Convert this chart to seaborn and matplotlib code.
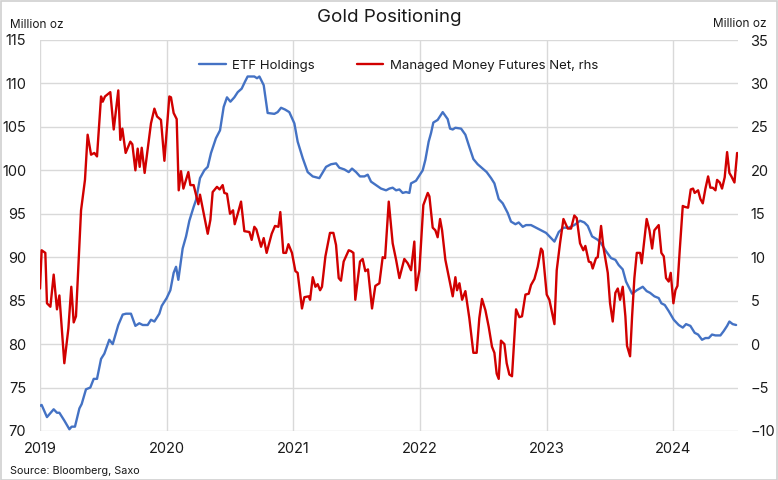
import numpy as np
import pandas as pd
import seaborn as sns
import matplotlib.pyplot as plt

# ETF holdings (left axis, million oz) - decimal year / value
etf_year = [
    2019.000, 2019.013, 2019.055, 2019.108, 2019.134, 2019.153, 2019.192, 2019.232, 2019.250, 2019.276,
    2019.311, 2019.329, 2019.363, 2019.397, 2019.424, 2019.450, 2019.482, 2019.508, 2019.547, 2019.574,
    2019.618, 2019.653, 2019.679, 2019.718, 2019.753, 2019.784, 2019.811, 2019.850, 2019.876, 2019.903,
    2019.942, 2019.961, 2020.000, 2020.029, 2020.055, 2020.074, 2020.092, 2020.126, 2020.153, 2020.179,
    2020.213, 2020.232, 2020.263, 2020.297, 2020.324, 2020.350, 2020.389, 2020.421, 2020.450, 2020.476,
    2020.503, 2020.534, 2020.561, 2020.592, 2020.618, 2020.639, 2020.692, 2020.713, 2020.732, 2020.766,
    2020.797, 2020.850, 2020.876, 2020.903, 2020.934, 2020.968,
    2021.008, 2021.034, 2021.074, 2021.113, 2021.153, 2021.205, 2021.258, 2021.297, 2021.337, 2021.363,
    2021.403, 2021.437, 2021.463, 2021.495, 2021.526, 2021.561, 2021.587, 2021.613, 2021.653, 2021.692,
    2021.732, 2021.758, 2021.784, 2021.811, 2021.837, 2021.863, 2021.889, 2021.916, 2021.929, 2021.968,
    2022.021, 2022.042, 2022.068, 2022.087, 2022.105, 2022.139, 2022.179, 2022.218, 2022.237, 2022.258,
    2022.279, 2022.324, 2022.358, 2022.389, 2022.421, 2022.455, 2022.495, 2022.526, 2022.561, 2022.587,
    2022.621, 2022.653, 2022.692, 2022.718, 2022.753, 2022.779, 2022.811, 2022.837, 2022.876, 2022.916,
    2022.955, 2022.995,
    2023.021, 2023.061, 2023.095, 2023.132, 2023.174, 2023.218, 2023.263, 2023.297, 2023.324, 2023.358,
    2023.403, 2023.429, 2023.468, 2023.508, 2023.542, 2023.568, 2023.600, 2023.626, 2023.674, 2023.711,
    2023.758, 2023.789, 2023.816, 2023.850, 2023.884, 2023.905, 2023.932, 2023.963,
    2024.003, 2024.042, 2024.074, 2024.100, 2024.134, 2024.168, 2024.195, 2024.226, 2024.253, 2024.279,
    2024.305, 2024.332, 2024.371, 2024.397, 2024.424, 2024.442, 2024.468, 2024.495,
]
etf_oz = [
    72.9, 73.0, 71.6, 72.5, 72.1, 72.1, 71.2, 70.2, 70.5, 70.5,
    72.6, 73.1, 74.8, 75.0, 76.0, 76.0, 78.3, 78.9, 80.5, 80.0,
    82.2, 83.4, 83.5, 83.5, 82.1, 82.4, 82.2, 82.2, 82.8, 82.6,
    83.5, 84.4, 85.3, 86.2, 88.2, 88.9, 87.4, 91.0, 92.4, 94.2,
    95.8, 96.6, 99.1, 100.0, 100.4, 102.0, 103.7, 104.6, 107.3, 108.4,
    107.9, 108.4, 109.0, 109.4, 110.2, 110.8, 110.8, 110.6, 110.8, 109.8,
    106.6, 106.5, 106.7, 107.2, 107.0, 106.7,
    105.4, 103.3, 101.4, 99.8, 99.3, 99.1, 100.4, 100.7, 100.8, 100.3,
    100.1, 99.8, 100.2, 99.8, 99.3, 99.3, 99.5, 98.7, 98.3, 97.9,
    97.7, 97.9, 98.0, 97.7, 97.8, 97.4, 97.5, 97.4, 98.5, 98.8,
    100.0, 101.2, 103.3, 104.3, 105.5, 105.8, 106.7, 105.9, 104.8, 104.7,
    104.9, 104.8, 104.1, 102.7, 101.3, 100.7, 100.2, 99.8, 99.1, 98.5,
    96.7, 96.2, 95.1, 94.1, 93.8, 94.0, 93.5, 93.7, 93.7, 93.4,
    93.1, 92.8,
    92.4, 91.8, 92.9, 93.4, 93.4, 93.7, 94.2, 94.0, 93.6, 92.4,
    92.0, 91.6, 90.7, 89.9, 89.7, 89.1, 88.6, 87.2, 85.8, 86.2,
    86.6, 86.1, 85.9, 85.5, 85.3, 84.7, 84.5, 83.8,
    82.8, 82.2, 81.9, 82.3, 82.1, 81.3, 81.1, 80.5, 80.7, 80.7,
    81.1, 81.0, 81.0, 81.5, 82.1, 82.6, 82.3, 82.2,
]

# Managed money futures net (right axis, million oz)
mm_year = [
    2019.000, 2019.013, 2019.042, 2019.055, 2019.082, 2019.108, 2019.134, 2019.153, 2019.192, 2019.224,
    2019.247, 2019.266, 2019.284, 2019.324, 2019.355, 2019.376, 2019.403, 2019.429, 2019.450, 2019.482,
    2019.495, 2019.513, 2019.555, 2019.582, 2019.618, 2019.634, 2019.650, 2019.676, 2019.713, 2019.729,
    2019.753, 2019.771, 2019.787, 2019.803, 2019.826, 2019.876, 2019.903, 2019.924, 2019.955, 2019.982,
    2020.021, 2020.034, 2020.055, 2020.079, 2020.095, 2020.113, 2020.132, 2020.171, 2020.187, 2020.213,
    2020.250, 2020.263, 2020.324, 2020.345, 2020.363, 2020.397, 2020.418, 2020.442, 2020.455, 2020.476,
    2020.500, 2020.524, 2020.537, 2020.563, 2020.587, 2020.613, 2020.653, 2020.671, 2020.692, 2020.708,
    2020.745, 2020.766, 2020.789, 2020.829, 2020.855, 2020.882, 2020.897, 2020.921, 2020.942, 2020.961,
    2020.989,
    2021.016, 2021.034, 2021.068, 2021.087, 2021.121, 2021.132, 2021.153, 2021.174, 2021.192, 2021.211,
    2021.226, 2021.253, 2021.289, 2021.316, 2021.337, 2021.358, 2021.376, 2021.397, 2021.437, 2021.455,
    2021.474, 2021.489, 2021.526, 2021.547, 2021.568, 2021.589, 2021.621, 2021.647, 2021.679, 2021.705,
    2021.724, 2021.753, 2021.784, 2021.811, 2021.837, 2021.876, 2021.903, 2021.929, 2021.955, 2021.968,
    2021.995,
    2022.026, 2022.061, 2022.074, 2022.100, 2022.121, 2022.139, 2022.158, 2022.174, 2022.200, 2022.232,
    2022.258, 2022.279, 2022.292, 2022.311, 2022.332, 2022.358, 2022.389, 2022.421, 2022.447, 2022.468,
    2022.489, 2022.516, 2022.542, 2022.568, 2022.587, 2022.605, 2022.621, 2022.639, 2022.666, 2022.684,
    2022.705, 2022.726, 2022.758, 2022.784, 2022.805, 2022.832, 2022.858, 2022.876, 2022.903, 2022.929,
    2022.955, 2022.968, 2023.000,
    2023.021, 2023.061, 2023.079, 2023.105, 2023.132, 2023.166, 2023.192, 2023.218, 2023.237, 2023.263,
    2023.289, 2023.305, 2023.332, 2023.350, 2023.363, 2023.389, 2023.403, 2023.429, 2023.447, 2023.482,
    2023.500, 2023.521, 2023.542, 2023.561, 2023.579, 2023.600, 2023.621, 2023.634, 2023.658, 2023.674,
    2023.692, 2023.711, 2023.737, 2023.750, 2023.789, 2023.811, 2023.832, 2023.850, 2023.884,
    2023.905, 2023.924, 2023.942, 2023.963, 2023.979,
    2024.000, 2024.016, 2024.032, 2024.050, 2024.074, 2024.089, 2024.116, 2024.137, 2024.155, 2024.168,
    2024.195, 2024.213, 2024.232, 2024.253, 2024.274, 2024.292, 2024.311, 2024.332, 2024.345, 2024.366,
    2024.384, 2024.405, 2024.424, 2024.442, 2024.458, 2024.482, 2024.503,
]
mm_oz = [
    6.4, 10.8, 10.5, 4.7, 4.3, 8.0, 4.0, 5.6, -2.2, 1.8,
    6.6, 2.5, 3.2, 15.4, 18.9, 24.1, 21.8, 22.0, 21.6, 28.5,
    27.9, 28.5, 29.0, 24.7, 29.2, 23.5, 24.8, 22.0, 23.3, 23.0,
    20.0, 22.5, 20.4, 22.6, 19.7, 25.4, 27.1, 26.2, 25.8, 21.1,
    28.5, 28.4, 26.6, 25.9, 17.7, 19.9, 17.9, 19.8, 18.3, 18.3,
    16.1, 17.2, 12.7, 14.3, 17.5, 18.1, 17.8, 18.3, 17.4, 17.3,
    15.0, 15.4, 13.8, 15.1, 16.4, 13.0, 12.9, 12.0, 13.5, 13.2,
    11.2, 12.2, 10.5, 12.7, 13.6, 13.5, 15.2, 10.5, 10.5, 11.5,
    10.5,
    8.4, 8.2, 4.1, 5.4, 5.5, 5.1, 7.7, 6.6, 6.9, 6.2,
    6.6, 10.1, 12.8, 12.8, 11.4, 7.6, 7.3, 9.5, 10.8, 10.7,
    10.5, 5.1, 9.5, 9.8, 8.4, 8.6, 4.1, 6.7, 7.0, 10.0,
    9.9, 16.4, 11.6, 9.7, 7.6, 9.8, 9.3, 8.5, 11.8, 6.2,
    8.5,
    16.0, 17.4, 17.0, 13.4, 13.1, 12.3, 14.4, 13.1, 9.7, 7.4,
    5.5, 7.7, 6.2, 7.0, 5.1, 6.1, 3.0, -1.0, -1.0, 3.0,
    5.2, 3.9, 2.0, -0.3, -1.0, -3.4, -4.0, 0.4, 0.0, -2.2,
    -3.5, -3.7, 4.0, 3.1, 3.2, 5.7, 5.8, 6.8, 7.5, 8.9,
    11.0, 10.7, 5.7,
    5.1, 2.3, 8.5, 11.6, 14.4, 13.3, 13.3, 14.8, 14.5, 11.6,
    10.8, 11.3, 9.5, 9.4, 8.7, 9.9, 10.0, 13.6, 11.2, 8.2,
    4.7, 2.6, 5.9, 6.4, 5.1, 6.6, 3.2, -0.2, -1.4, 3.2,
    7.6, 10.5, 10.5, 9.3, 14.4, 13.1, 11.0, 13.1, 13.7,
    10.5, 10.1, 7.6, 7.2, 8.2,
    4.7, 6.2, 6.7, 10.8, 15.9, 15.8, 15.7, 17.8, 17.9, 17.4,
    17.7, 16.7, 16.2, 17.9, 19.3, 18.0, 18.0, 17.7, 18.9, 18.6,
    17.9, 19.2, 22.1, 19.7, 19.3, 18.6, 22.0,
]

year_ticks = [2019, 2020, 2021, 2022, 2023, 2024]
left_ticks = [70, 75, 80, 85, 90, 95, 100, 105, 110, 115]
right_ticks = [-10, -5, 0, 5, 10, 15, 20, 25, 30, 35]

etf = pd.DataFrame({'year': etf_year, 'oz': etf_oz})
mm = pd.DataFrame({'year': mm_year, 'oz': mm_oz})

sns.set_theme(style='white')
plt.rcParams['font.family'] = ['Inter', 'DejaVu Sans']
text_col = '#1a1a1a'
blue = '#4472C4'
red = '#D10000'

fig = plt.figure(figsize=(7.78, 4.8), dpi=100)
ax = fig.add_axes([40 / 778, 1 - 431 / 480, 698 / 778, 391 / 480])
ax2 = ax.twinx()

sns.lineplot(data=etf, x='year', y='oz', ax=ax, color=blue, linewidth=1.7,
             label='ETF Holdings', legend=False)
sns.lineplot(data=mm, x='year', y='oz', ax=ax2, color=red, linewidth=1.7,
             label='Managed Money Futures Net, rhs', legend=False)

ax.set_xlim(2019, 2024.51)
ax.set_ylim(70, 115)
ax2.set_ylim(-10, 35)
ax.set_xticks(year_ticks)
ax.set_xticklabels([str(y) for y in year_ticks])
ax.set_yticks(left_ticks)
ax2.set_yticks(right_ticks)
ax.set_xlabel('')
ax.set_ylabel('')
ax2.set_ylabel('')

ax.grid(True, color='#d9d9d9', linewidth=1.0)
ax2.grid(False)
for a in (ax, ax2):
    for s in a.spines.values():
        s.set_visible(False)
ax.tick_params(axis='y', length=0, pad=10, labelsize=10.5, labelcolor=text_col)
ax.tick_params(axis='x', length=0, pad=8, labelsize=10.5, labelcolor=text_col)
ax2.tick_params(axis='y', length=0, pad=9, labelsize=10.5, labelcolor=text_col)

h1, l1 = ax.get_legend_handles_labels()
h2, l2 = ax2.get_legend_handles_labels()
ax2.legend(h1 + h2, l1 + l2, loc='center', bbox_to_anchor=(0.514, 0.935), ncol=2,
           frameon=False, fontsize=9.5, handlelength=2.0, columnspacing=3.2,
           handletextpad=0.5, labelcolor=text_col)

fig.text(0.5, 1 - 18 / 480, 'Gold Positioning', ha='center', va='center',
         fontsize=13.5, color=text_col)
fig.text(10 / 778, 1 - 25 / 480, 'Million oz', ha='left', va='center',
         fontsize=8.5, color=text_col)
fig.text(767 / 778, 1 - 24 / 480, 'Million oz', ha='right', va='center',
         fontsize=8.5, color=text_col)
fig.text(10 / 778, 1 - 471 / 480, 'Source: Bloomberg, Saxo', ha='left', va='center',
         fontsize=7.8, color=text_col)

fig.patches.append(plt.Rectangle((0.001, 0.001), 0.998, 0.997, transform=fig.transFigure,
                                 fill=False, edgecolor='#d0d0d0', linewidth=1.2))

fig.savefig('out.png', dpi=100)
